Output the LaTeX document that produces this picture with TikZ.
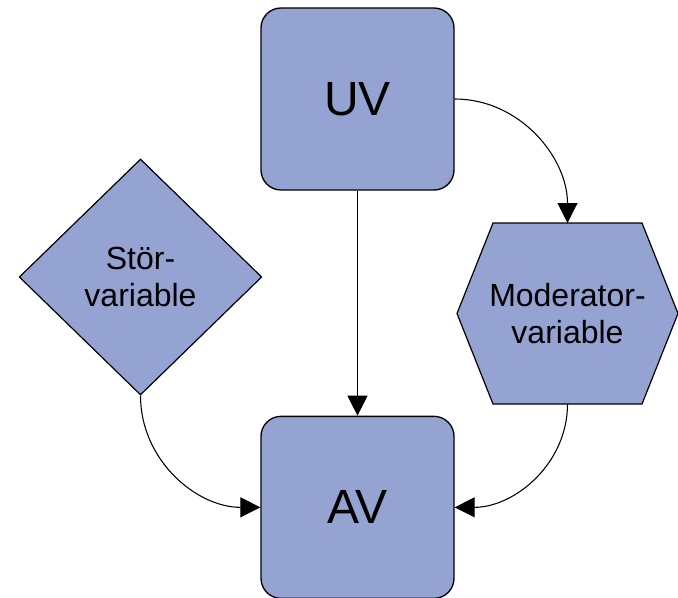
\documentclass[tikz,border=0pt]{standalone}
\usepackage{fontspec}
\setmainfont{Liberation Sans}
\usepackage{xcolor}
\usetikzlibrary{arrows.meta,positioning,shapes.geometric,calc}
\definecolor{varblue}{RGB}{149,163,210}
\tikzset{
  varbox/.style={rectangle, draw=black, line width=1pt, rounded corners=15pt,
                 minimum width=144.75pt, minimum height=136.5pt,
                 text centered, fill=varblue, font=\fontsize{36}{43}\selectfont},
  stoerbox/.style={diamond, draw=black, line width=0.9pt, aspect=1.03,
                   minimum width=182pt, minimum height=177pt,
                   align=center, fill=varblue, font=\fontsize{24}{27.75}\selectfont},
  modbox/.style={rectangle, inner sep=0pt, outer sep=0pt,
                 minimum width=165.75pt, minimum height=135.75pt,
                 align=center, font=\fontsize{24}{27.75}\selectfont},
  hexline/.style={draw=black, line width=0.9pt, fill=varblue, line join=miter},
  arr/.style={-{Triangle[length=15pt, width=15pt]}, line width=0.8pt, draw=black},
}
\begin{document}
\begin{tikzpicture}[x=0.75pt, y=-0.75pt, node distance=168.75pt]
  \useasboundingbox (0,0) rectangle (678,597);
  \node[varbox] (uv) at (357.5,99) {UV};
  \node[varbox, below=of uv] (av) {AV};
  \node[stoerbox] (stoer) at (140.5,277) {Stör-\\variable};
  \coordinate (modc) at (567.5,313.5);
  \draw[hexline] ($(modc)+(-110.5,0)$) -- ++(36,-90.5) -- ++(149,0) -- ++(36,90.5)
    -- ++(-36,90.5) -- ++(-149,0) -- cycle;
  \node[modbox] (mod) at (modc) {Moderator-\\variable};
  \draw[arr] (uv) -- (av);
  \draw[arr] (uv.east) to[out=0, in=90] (mod.north);
  \draw[arr] (stoer.south) to[out=-90, in=180] (av.west);
  \draw[arr] (mod.south) to[out=-90, in=0] (av.east);
\end{tikzpicture}
\end{document}
